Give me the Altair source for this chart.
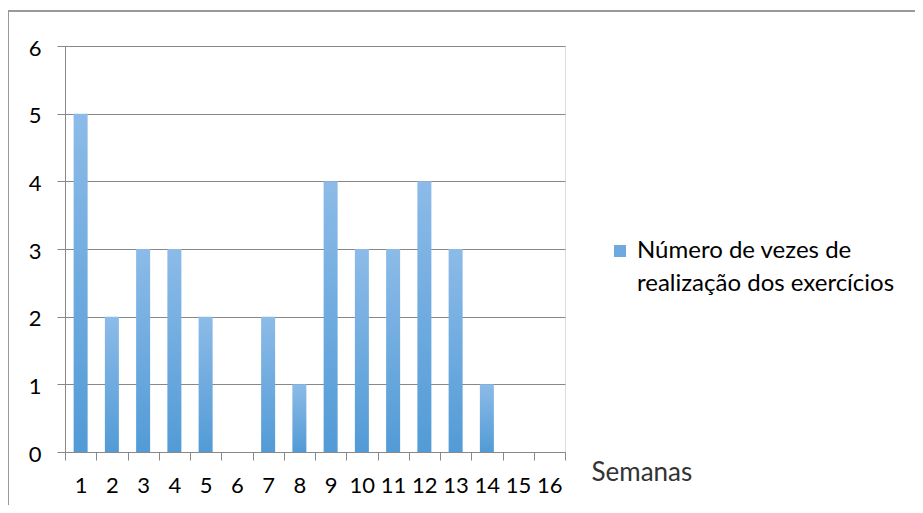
import altair as alt
import pandas as pd

weeks = [str(i) for i in range(1, 17)]
counts = [5, 2, 3, 3, 2, 0, 2, 1, 4, 3, 3, 4, 3, 1, 0, 0]
series_name = "Número de vezes de realização dos exercícios"

df = pd.DataFrame({"Semana": weeks, "Valor": counts, "Serie": [series_name] * len(weeks)})

FONT = "Lato"
grad = alt.Gradient(
    gradient="linear",
    stops=[alt.GradientStop(color="#8cbbe8", offset=0), alt.GradientStop(color="#529bd6", offset=1)],
    x1=0, x2=0, y1=0, y2=1,
)

x_enc = alt.X(
    "Semana:N",
    sort=weeks,
    scale=alt.Scale(paddingInner=0, paddingOuter=0),
    axis=alt.Axis(
        title="Semanas",
        titleX=526,
        titleY=20,
        titleAlign="left",
        titleBaseline="middle",
        titleFont=FONT,
        titleFontSize=26,
        titleFontWeight="normal",
        titleColor="#333333",
        labelAngle=0,
        labelFont=FONT,
        labelFontSize=22,
        labelColor="black",
        labelPadding=15,
        tickBand="extent",
        tickSize=8,
        tickColor="#888888",
        domainColor="#888888",
        grid=False,
    ),
)
y_enc = alt.Y(
    "Valor:Q",
    scale=alt.Scale(domain=[0, 6]),
    axis=alt.Axis(
        title=None,
        values=[0, 1, 2, 3, 4, 5, 6],
        format="d",
        labelFont=FONT,
        labelFontSize=22,
        labelColor="black",
        labelPadding=16,
        labelOffset=2,
        tickSize=8,
        tickColor="#888888",
        domainColor="#888888",
        gridColor="#888888",
        gridOpacity=1,
    ),
)

bars = alt.Chart(df).mark_bar(size=14, color=grad).encode(x=x_enc, y=y_enc)

legend_layer = alt.Chart(df).mark_bar(size=14, opacity=0).encode(
    x=x_enc,
    y=y_enc,
    fill=alt.Fill(
        "Serie:N",
        scale=alt.Scale(range=["#6eaae0"]),
        legend=alt.Legend(
            title=None,
            orient="none",
            legendX=543,
            legendY=193,
            symbolType="square",
            symbolSize=144,
            symbolOpacity=1,
            symbolStrokeWidth=0,
            labelOffset=5,
            labelFont=FONT,
            labelFontSize=24,
            labelColor="black",
            labelLimit=0,
            labelExpr="['Número de vezes de', 'realização dos exercícios']",
        ),
    ),
)

border = alt.Chart(df).mark_rect(fill=None, stroke="#999999", strokeWidth=1.5, clip=False).encode(
    x=alt.value(-57), x2=alt.value(900), y=alt.value(-35), y2=alt.value(700)
)

chart = (
    alt.layer(border, bars, legend_layer)
    .properties(
        width=500,
        height=406,
        autosize=alt.AutoSizeParams(type="none"),
        padding={"left": 57, "top": 38, "right": 350, "bottom": 53},
    )
    .configure_view(stroke=None)
    .configure(background="white", style={"guide-label": {"lineHeight": 33}})
)

chart.save("out.html", embed_options={"renderer": "svg", "actions": False})
